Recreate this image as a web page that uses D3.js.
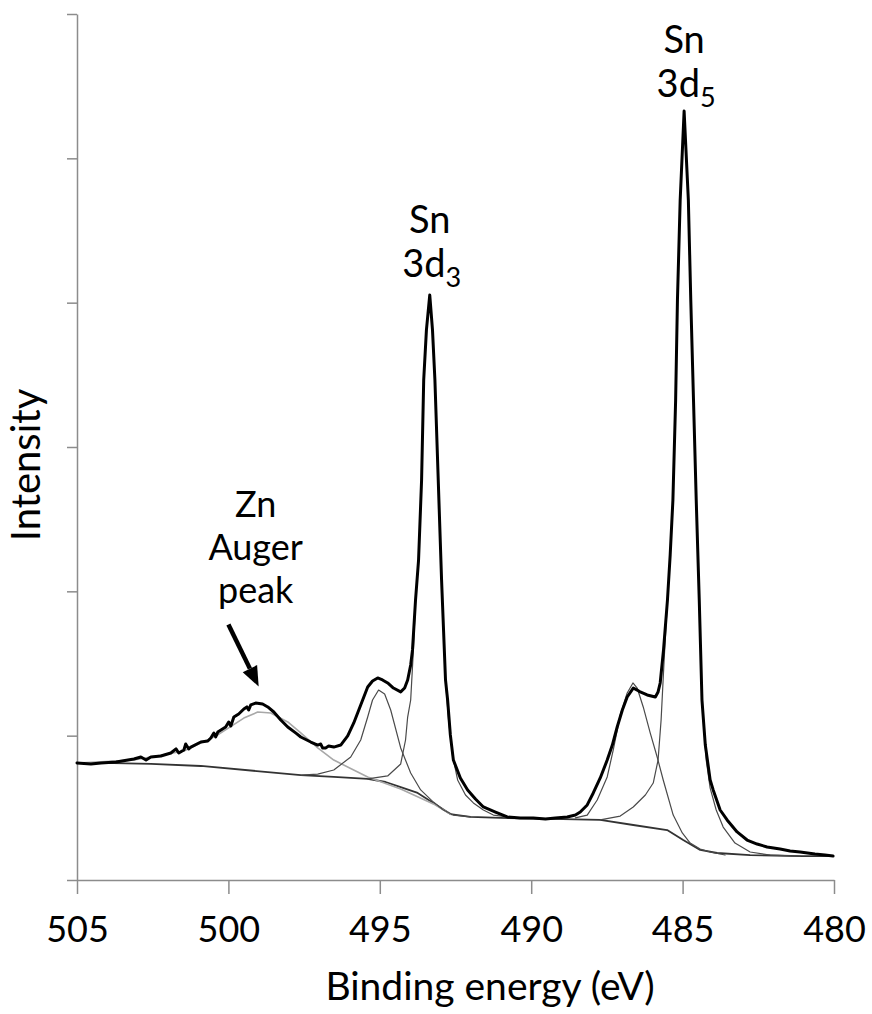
<!DOCTYPE html>
<html>
<head>
<meta charset="utf-8">
<script src="https://cdn.jsdelivr.net/npm/d3@7"></script>
<style>
  html, body { margin: 0; padding: 0; background: #fff; }
  svg { display: block; }
  text { font-family: "Lato", "Open Sans", sans-serif; fill: #000; }
</style>
</head>
<body>
<div id="chart"></div>
<script>
// ---------------- DATA (binding energy in eV, intensity in arbitrary units) ----------------
const xTicks = [505, 500, 495, 490, 485, 480];
const yTicks = [0, 1, 2, 3, 4, 5, 6];

// measured spectrum (thick black)
const specE = [505.00, 504.54, 504.21, 503.71, 503.12, 502.89, 502.72, 502.56, 502.23, 501.90, 501.73, 501.64,
  501.47, 501.41, 501.31, 501.24, 500.91, 500.68, 500.58, 500.48, 500.42, 500.35, 500.09, 499.99, 499.92,
  499.82, 499.66, 499.49, 499.39, 499.33, 499.26, 499.10, 498.87, 498.70, 498.50, 498.27, 498.04, 497.78,
  497.61, 497.28, 497.05, 496.95, 496.89, 496.79, 496.69, 496.52, 496.29, 496.06, 495.86, 495.63, 495.40,
  495.24, 495.07, 494.91, 494.74, 494.55, 494.31, 494.18, 494.08, 493.98, 493.92, 493.82, 493.72, 493.62,
  493.55, 493.46, 493.35, 493.26, 493.18, 493.07, 492.96, 492.83, 492.76, 492.67, 492.57, 492.34, 492.10,
  491.84, 491.58, 491.18, 490.79, 490.36, 489.93, 489.53, 489.20, 488.81, 488.54, 488.38, 488.15, 487.95,
  487.72, 487.49, 487.32, 487.16, 486.99, 486.83, 486.63, 486.50, 486.40, 486.17, 485.90, 485.81, 485.74,
  485.63, 485.50, 485.41, 485.32, 485.23, 485.17, 485.08, 484.95, 484.81, 484.73, 484.64, 484.55, 484.45,
  484.36, 484.25, 484.09, 483.99, 483.76, 483.53, 483.20, 482.87, 482.54, 482.21, 481.78, 481.45, 481.12,
  480.63, 480.30, 480.03];
const specI = [0.811, 0.804, 0.811, 0.818, 0.838, 0.852, 0.831, 0.852, 0.859, 0.880, 0.908, 0.880,
  0.901, 0.942, 0.908, 0.921, 0.956, 0.963, 0.984, 1.018, 0.991, 1.025, 1.060, 1.095, 1.067,
  1.129, 1.150, 1.185, 1.199, 1.178, 1.213, 1.226, 1.219, 1.199, 1.164, 1.109, 1.060, 1.019,
  0.991, 0.956, 0.935, 0.942, 0.915, 0.915, 0.928, 0.921, 0.935, 0.998, 1.088, 1.213, 1.337,
  1.379, 1.400, 1.386, 1.365, 1.330, 1.303, 1.330, 1.386, 1.490, 1.594, 1.940, 2.217, 2.771,
  3.464, 3.811, 4.053, 3.811, 3.464, 2.771, 2.079, 1.386, 1.247, 1.005, 0.831, 0.707, 0.624,
  0.561, 0.506, 0.471, 0.437, 0.430, 0.430, 0.423, 0.430, 0.437, 0.450, 0.471, 0.520, 0.603,
  0.707, 0.831, 0.935, 1.060, 1.178, 1.268, 1.330, 1.316, 1.303, 1.282, 1.268, 1.303, 1.365,
  1.594, 1.940, 2.252, 2.633, 3.326, 4.019, 4.711, 5.328, 4.711, 4.019, 3.326, 2.633, 1.940,
  1.247, 0.935, 0.693, 0.624, 0.485, 0.416, 0.333, 0.277, 0.249, 0.229, 0.215, 0.201, 0.194,
  0.180, 0.173, 0.166];

// Shirley background
const bgE = [505.00, 504.21, 502.56, 500.91, 498.70, 497.61, 496.52, 495.40, 494.81, 494.31, 493.75, 493.23,
  492.67, 492.01, 491.02, 489.37, 487.72, 486.63, 485.51, 484.98, 484.42, 483.86, 482.77, 481.12, 480.03];
const bgI = [0.811, 0.811, 0.804, 0.790, 0.748, 0.727, 0.714, 0.700, 0.679, 0.644, 0.603, 0.534,
  0.457, 0.437, 0.430, 0.423, 0.416, 0.381, 0.346, 0.277, 0.208, 0.187, 0.173, 0.166, 0.166];

// Zn Auger component (light grey)
const znE = [505.00, 503.12, 501.47, 500.35, 499.49, 499.03, 498.60, 498.04, 497.61, 497.05, 496.52, 495.40,
  494.31, 493.23, 492.67];
const znI = [0.811, 0.831, 0.894, 1.005, 1.122, 1.164, 1.157, 1.095, 1.019, 0.915, 0.831, 0.714,
  0.630, 0.527, 0.457];

// Sn 3d3/2 satellite component
const sat3E = [497.61, 497.05, 496.52, 495.96, 495.63, 495.40, 495.24, 495.04, 494.84, 494.64, 494.31, 493.98,
  493.65, 493.23, 492.90, 492.57, 492.01];
const sat3I = [0.727, 0.734, 0.762, 0.852, 0.970, 1.129, 1.247, 1.316, 1.289, 1.178, 0.915, 0.741,
  0.624, 0.540, 0.485, 0.450, 0.437];

// Sn 3d3/2 main component
const d3E = [495.40, 494.74, 494.31, 494.15, 494.08, 493.98, 493.89, 493.82, 493.72, 493.62, 493.55, 493.46,
  493.35, 493.26, 493.18, 493.07, 492.96, 492.83, 492.73, 492.60, 492.43, 492.17, 491.91, 491.58, 491.25,
  490.45, 489.70];
const d3I = [0.700, 0.721, 0.804, 0.970, 1.129, 1.247, 1.594, 1.940, 2.217, 2.771, 3.464, 3.811,
  4.046, 3.811, 3.464, 2.771, 2.079, 1.386, 1.109, 0.866, 0.693, 0.589, 0.534, 0.485, 0.450,
  0.430, 0.423];

// Sn 3d5/2 satellite component
const sat5E = [488.54, 488.15, 487.82, 487.49, 487.29, 487.06, 486.83, 486.64, 486.50, 486.30, 486.07, 485.84,
  485.64, 485.31, 485.01, 484.75, 484.42, 484.09, 483.60];
const sat5I = [0.430, 0.450, 0.554, 0.714, 0.901, 1.143, 1.296, 1.365, 1.330, 1.199, 1.019, 0.852,
  0.693, 0.450, 0.326, 0.256, 0.215, 0.194, 0.173];

// Sn 3d5/2 main component
const d5E = [487.72, 487.06, 486.63, 486.23, 485.97, 485.81, 485.71, 485.61, 485.50, 485.41, 485.32, 485.23,
  485.17, 485.08, 484.95, 484.81, 484.73, 484.64, 484.55, 484.45, 484.36, 484.22, 484.09, 483.89, 483.66,
  483.27, 482.77, 482.11, 481.12];
const d5I = [0.416, 0.443, 0.506, 0.589, 0.672, 0.831, 1.109, 1.524, 1.940, 2.252, 2.633, 3.326,
  4.019, 4.711, 5.328, 4.711, 4.019, 3.326, 2.633, 1.940, 1.247, 0.831, 0.637, 0.485, 0.367,
  0.256, 0.194, 0.173, 0.166];

// ---------------- CHART ----------------
const W = 872, H = 1014;
const svg = d3.select("#chart").append("svg").attr("width", W).attr("height", H);

const x = d3.scaleLinear().domain([505, 480]).range([77, 834]);
const y = d3.scaleLinear().domain([0, 6]).range([880, 14]);

const axisColor = "#8c8c8c";

// axes
const gx = svg.append("g").attr("transform", `translate(0,${y(0)})`)
  .call(d3.axisBottom(x).tickValues(xTicks).tickSize(14).tickSizeOuter(0).tickPadding(22).tickFormat(d3.format("d")));
gx.select(".domain").attr("stroke", axisColor).attr("stroke-width", 1.5);
gx.selectAll(".tick line").attr("stroke", axisColor).attr("stroke-width", 1.5);
gx.selectAll(".tick text").attr("font-size", 36).attr("font-family", "Lato").attr("fill", "#000");

const gy = svg.append("g").attr("transform", `translate(${x(505)},0)`)
  .call(d3.axisLeft(y).tickValues(yTicks).tickSize(10).tickSizeOuter(0).tickFormat(""));
gy.select(".domain").attr("stroke", axisColor).attr("stroke-width", 1.5);
gy.selectAll(".tick line").attr("stroke", axisColor).attr("stroke-width", 1.5);

// axis titles
svg.append("text").attr("x", 490).attr("y", 1000)
  .attr("text-anchor", "middle").attr("font-size", 39).text("Binding energy (eV)");
svg.append("text").attr("transform", `translate(40,${465}) rotate(-90)`)
  .attr("text-anchor", "middle").attr("font-size", 40).text("Intensity");

// lines
const mk = (E, I) => E.map((e, i) => [e, I[i]]);
const line = d3.line().x(d => x(d[0])).y(d => y(d[1]));

function draw(E, I, color, width) {
  svg.append("path").datum(mk(E, I)).attr("d", line)
    .attr("fill", "none").attr("stroke", color).attr("stroke-width", width)
    .attr("stroke-linejoin", "round").attr("stroke-linecap", "round");
}
draw(bgE, bgI, "#333", 1.8);
draw(znE, znI, "#a8a8a8", 1.6);
draw(sat3E, sat3I, "#4a4a4a", 1.2);
draw(d3E, d3I, "#4a4a4a", 1.2);
draw(sat5E, sat5I, "#4a4a4a", 1.2);
draw(d5E, d5I, "#4a4a4a", 1.2);
draw(specE, specI, "#000", 3);

// annotations
function peakLabel(E, base, sub) {
  const cx = x(E);
  svg.append("text").attr("x", cx).attr("y", base).attr("text-anchor", "middle")
    .attr("font-size", 38).text("Sn");
  const t = svg.append("text").attr("x", cx + 2).attr("y", base + 44).attr("text-anchor", "middle")
    .attr("font-size", 38);
  t.append("tspan").text("3d");
  t.append("tspan").attr("font-size", 27).attr("dy", 10).text(sub);
}
peakLabel(493.35, 233, "3");
peakLabel(484.95, 53, "5");

const znX = x(499.1);
["Zn", "Auger", "peak"].forEach((s, i) => {
  svg.append("text").attr("x", znX).attr("y", 517 + i * 43).attr("text-anchor", "middle")
    .attr("font-size", 36).text(s);
});

// arrow
const tip = [x(499.0), y(1.34)];
const tail = [x(500.0), y(1.77)];
const ang = Math.atan2(tip[1] - tail[1], tip[0] - tail[0]);
const headLen = 20, headW = 8;
const base = [tip[0] - headLen * Math.cos(ang), tip[1] - headLen * Math.sin(ang)];
svg.append("line").attr("x1", tail[0]).attr("y1", tail[1]).attr("x2", base[0]).attr("y2", base[1])
  .attr("stroke", "#000").attr("stroke-width", 4.5);
const px = -Math.sin(ang), py = Math.cos(ang);
svg.append("path").attr("d", d3.line()([
  tip,
  [base[0] + headW * px, base[1] + headW * py],
  [base[0] - headW * px, base[1] - headW * py]
]) + "Z").attr("fill", "#000");
</script>
</body>
</html>
